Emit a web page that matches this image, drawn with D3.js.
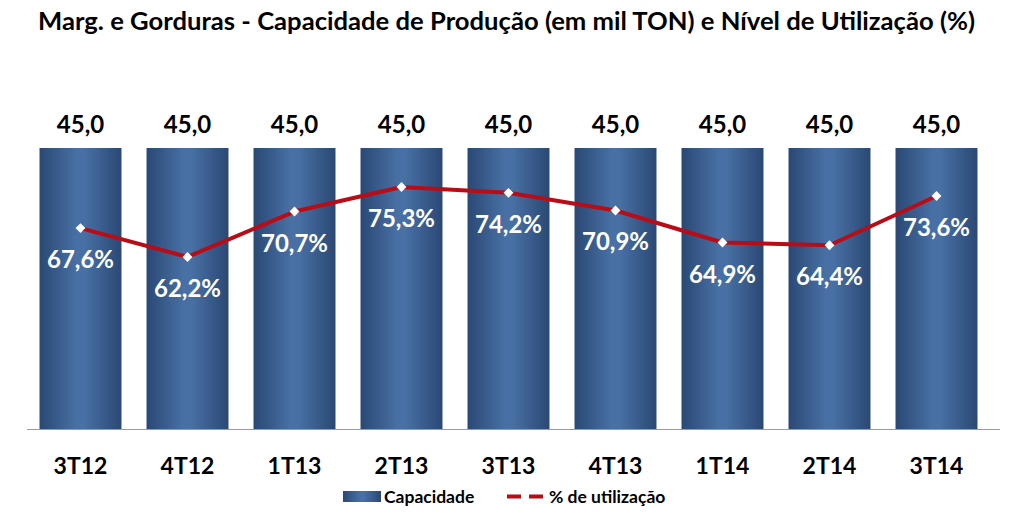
<!DOCTYPE html>
<html><head><meta charset="utf-8">
<script src="https://cdn.jsdelivr.net/npm/d3@7"></script>
<style>body{margin:0;background:#fff}svg{display:block}</style>
</head><body>
<svg id="c" width="1024" height="526"></svg>
<script>
const categories = ["3T12","4T12","1T13","2T13","3T13","4T13","1T14","2T14","3T14"];
const capacidade = [45.0,45.0,45.0,45.0,45.0,45.0,45.0,45.0,45.0];
const utilizacao = [67.6,62.2,70.7,75.3,74.2,70.9,64.9,64.4,73.6];
const title = "Marg. e Gorduras - Capacidade de Produção (em mil TON) e Nível de Utilização (%)";
const legendLabels = ["Capacidade","% de utilização"];

const fmt = v => v.toFixed(1).replace(".", ",");
const font = "Lato, 'Open Sans', sans-serif";
const svg = d3.select("#c");
const W = 1024, H = 526;
const x0 = 27, x1 = 990, yBase = 429;

const x = d3.scaleBand().domain(categories).range([x0, x1]).paddingInner(0.234).paddingOuter(0.117);
const y = d3.scaleLinear().domain([0, 50]).range([yBase, yBase - 281*50/45]);
const y2 = d3.scaleLinear().domain([30, 100]).range([yBase, 55]);

const defs = svg.append("defs");
const g = defs.append("linearGradient").attr("id","barg").attr("x1","0").attr("x2","1").attr("y1","0").attr("y2","0");
[[0,"#2a4874"],[0.45,"#4870a4"],[0.55,"#4870a4"],[1,"#2a4874"]].forEach(s=>g.append("stop").attr("offset",s[0]).attr("stop-color",s[1]));

svg.append("text").attr("x", 38).attr("y", 30).attr("textLength", 937).attr("lengthAdjust","spacingAndGlyphs")
  .attr("font-family", font).attr("font-weight","bold").attr("font-size", 24).attr("fill","#000").text(title);

svg.selectAll("rect.bar").data(capacidade).join("rect").attr("class","bar")
  .attr("x",(d,i)=>x(categories[i])).attr("width",x.bandwidth())
  .attr("y",d=>y(d)).attr("height",d=>yBase-y(d)).attr("fill","url(#barg)");

svg.selectAll("text.cap").data(capacidade).join("text").attr("class","cap")
  .attr("x",(d,i)=>x(categories[i])+x.bandwidth()/2).attr("y",d=>y(d)-15)
  .attr("text-anchor","middle").attr("font-family",font).attr("font-weight","bold").attr("font-size",24).attr("fill","#000").text(fmt);

svg.append("line").attr("x1",x0).attr("x2",x1+10).attr("y1",yBase+0.5).attr("y2",yBase+0.5).attr("stroke","#9a9a9a").attr("stroke-width",1);

const line = d3.line().x((d,i)=>x(categories[i])+x.bandwidth()/2).y(d=>y2(d));
svg.append("path").datum(utilizacao).attr("d",line).attr("fill","none").attr("stroke","#b80d16").attr("stroke-width",4).attr("stroke-linejoin","round");

svg.selectAll("path.mk").data(utilizacao).join("path").attr("class","mk")
  .attr("d", d3.symbol().type(d3.symbolDiamond2 || d3.symbolDiamond).size(62))
  .attr("transform",(d,i)=>`translate(${x(categories[i])+x.bandwidth()/2},${y2(d)})`)
  .attr("fill","#fff");

svg.selectAll("text.pct").data(utilizacao).join("text").attr("class","pct")
  .attr("x",(d,i)=>x(categories[i])+x.bandwidth()/2).attr("y",d=>y2(d)+40)
  .attr("text-anchor","middle").attr("font-family",font).attr("font-weight","bold").attr("font-size",24).attr("fill","#fff").text(d=>fmt(d)+"%");

svg.selectAll("text.cat").data(categories).join("text").attr("class","cat")
  .attr("x",d=>x(d)+x.bandwidth()/2).attr("y",474)
  .attr("text-anchor","middle").attr("font-family",font).attr("font-weight","bold").attr("font-size",23).attr("fill","#000").text(d=>d);

// legend
const lg = svg.append("g");
lg.append("rect").attr("x",343).attr("y",491).attr("width",38).attr("height",11).attr("fill","url(#barg)");
lg.append("text").attr("x",384).attr("y",503).attr("font-family",font).attr("font-weight","bold").attr("font-size",17.5).attr("fill","#000").text(legendLabels[0]);
lg.append("line").attr("x1",507).attr("x2",548).attr("y1",496.5).attr("y2",496.5).attr("stroke","#b80d16").attr("stroke-width",4).attr("stroke-dasharray","14,8");
lg.append("text").attr("x",549).attr("y",503).attr("font-family",font).attr("font-weight","bold").attr("font-size",17.5).attr("fill","#000").text(legendLabels[1]);
</script>
</body></html>
